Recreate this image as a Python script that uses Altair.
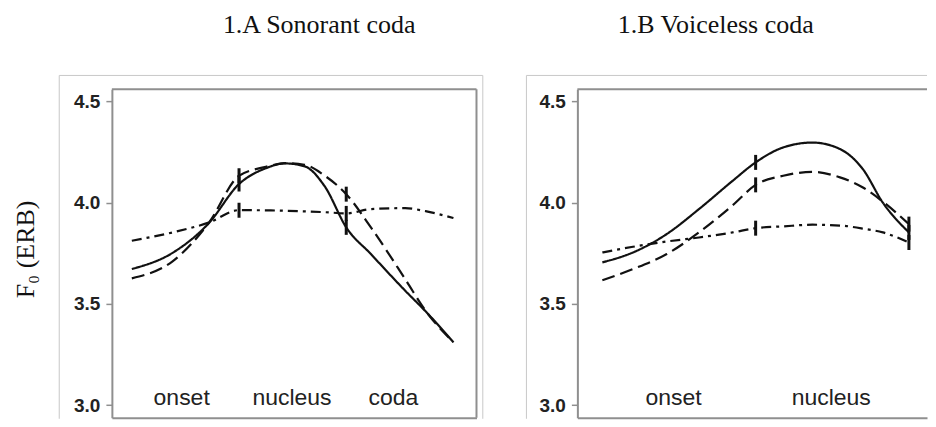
import altair as alt
import pandas as pd

# ---------------- data ----------------
series_names = ["solid", "dashed", "dashdot"]

left_x = [0.0, 0.38, 0.72, 1.0, 1.25, 1.43, 1.61, 1.8, 2.0, 2.23, 2.55, 2.74, 3.0]
left_solid = [3.672, 3.752, 3.900, 4.092, 4.170, 4.194, 4.180, 4.080, 3.878, 3.746, 3.565, 3.463, 3.310]
left_dashed = [3.626, 3.710, 3.902, 4.133, 4.177, 4.195, 4.187, 4.133, 4.042, 3.878, 3.622, 3.466, 3.310]
left_dashdot = [3.812, 3.853, 3.902, 3.963, 3.962, 3.960, 3.957, 3.953, 3.947, 3.968, 3.973, 3.958, 3.924]

right_x = [0.0, 0.2, 0.42, 0.63, 0.85, 1.0, 1.18, 1.37, 1.55, 1.7, 1.83, 2.0]
right_solid = [3.705, 3.754, 3.845, 3.968, 4.108, 4.199, 4.273, 4.297, 4.265, 4.165, 4.000, 3.853]
right_dashed = [3.617, 3.672, 3.746, 3.853, 3.987, 4.088, 4.133, 4.152, 4.125, 4.075, 4.005, 3.894]
right_dashdot = [3.754, 3.782, 3.808, 3.828, 3.853, 3.874, 3.883, 3.891, 3.887, 3.872, 3.853, 3.803]

boundaries = [1.0, 2.0]

left_labels = ["onset", "nucleus", "coda"]
left_label_x = [0.465, 1.494, 2.44]
right_labels = ["onset", "nucleus"]
right_label_x = [0.464, 1.493]
label_y = 3.0

y_ticks = [3.0, 3.5, 4.0, 4.5]
y_domain = [2.937, 4.561]

titles = ["1.A Sonorant coda", "1.B Voiceless coda"]
y_title = "F\u2080 (ERB)"

# ---------------- style ----------------
dash_styles = [[1, 0], [13, 6], [10, 5, 3, 5]]
FRAME = "#8f8f8f"
OUTER = "#c8c8c8"
H = 329


def long_df(xs, vals):
    rows = []
    for name, ys in zip(series_names, vals):
        for x, y in zip(xs, ys):
            rows.append({"x": x, "y": y, "series": name})
    return pd.DataFrame(rows)


def panel(xs, vals, labels, label_x, title, title_dx, W, xdom, with_y_title, right_border,
          outer_left, outer_right):
    df = long_df(xs, vals)
    xs_scale = alt.Scale(domain=xdom, nice=False, zero=False)
    ys_scale = alt.Scale(domain=y_domain, nice=False, zero=False)

    y_axis_kw = dict(
        values=y_ticks, format=".1f", grid=False,
        labelFont="Liberation Sans", labelFontSize=19, labelFontWeight="bold",
        labelColor="#222", labelPadding=6,
        tickColor=FRAME, tickSize=6, tickWidth=1.5,
        domainColor=FRAME, domainWidth=2,
    )
    if with_y_title:
        y_axis_kw.update(
            title=y_title, titleFont="Liberation Serif", titleFontSize=26,
            titleFontWeight="normal", titleColor="#111",
            titleX=-86, titleY=160, titleAlign="center", titleBaseline="middle",
            titleAngle=270,
        )
    else:
        y_axis_kw.update(title=None)

    x_enc = alt.X("x:Q", scale=xs_scale,
                  axis=alt.Axis(title=None, labels=False, ticks=False, grid=False,
                                domainColor=FRAME, domainWidth=2))
    y_enc = alt.Y("y:Q", scale=ys_scale, axis=alt.Axis(**y_axis_kw))

    base = alt.Chart(df)
    lines = base.mark_line(interpolate="monotone", color="#111", strokeWidth=2.2).encode(
        x=x_enc, y=y_enc,
        strokeDash=alt.StrokeDash("series:N",
                                  scale=alt.Scale(domain=series_names, range=dash_styles),
                                  legend=None),
        detail="series:N",
    )
    ticks = base.transform_filter(
        alt.FieldOneOfPredicate(field="x", oneOf=boundaries)
    ).mark_tick(orient="vertical", color="#111", thickness=3, size=15, opacity=1).encode(
        x="x:Q", y="y:Q"
    )

    lab_df = pd.DataFrame({"x": label_x, "y": [label_y] * len(label_x), "label": labels})
    text = alt.Chart(lab_df).mark_text(
        baseline="alphabetic", align="center", font="Liberation Sans", fontSize=23, color="#222"
    ).encode(x="x:Q", y="y:Q", text="label:N")

    one = alt.Data(values=[{"a": 1}])
    layers = []
    # outer (image) border, light grey
    layers.append(alt.Chart(one).mark_rule(color=OUTER, strokeWidth=1).encode(
        x=alt.value(outer_left), x2=alt.value(outer_right), y=alt.value(-13.7)))
    layers.append(alt.Chart(one).mark_rule(color=OUTER, strokeWidth=1).encode(
        x=alt.value(outer_left), y=alt.value(-13.7), y2=alt.value(H + 1)))
    if right_border:
        layers.append(alt.Chart(one).mark_rule(color=OUTER, strokeWidth=1).encode(
            x=alt.value(outer_right), y=alt.value(-13.7), y2=alt.value(H + 1)))
    # plot frame top / right
    layers.append(alt.Chart(one).mark_rule(color=FRAME, strokeWidth=2).encode(
        x=alt.value(0), x2=alt.value(W), y=alt.value(0)))
    if right_border:
        layers.append(alt.Chart(one).mark_rule(color=FRAME, strokeWidth=2).encode(
            x=alt.value(W), y=alt.value(0), y2=alt.value(H)))

    layered = alt.layer(lines, ticks, text, *layers).properties(
        width=W, height=H,
        title=alt.TitleParams(
            text=title, font="Liberation Serif", fontSize=26, fontWeight="normal",
            color="#111", anchor="middle", dx=title_dx, offset=16, frame="group",
            baseline="alphabetic",
        ),
    )
    return layered


left = panel(left_x, [left_solid, left_dashed, left_dashdot], left_labels, left_label_x,
             titles[0], 25, 365, [-0.186, 3.215], True, True, -52.7, 371.3)
right = panel(right_x, [right_solid, right_dashed, right_dashdot], right_labels, right_label_x,
              titles[1], -36.5, 350, [-0.163, 2.118], False, False, -51, 350)

chart = alt.hconcat(left, right, spacing=101, bounds="flush").properties(
    padding={"left": 5, "top": 3, "right": 0, "bottom": 0}
).configure_view(stroke=None)

chart.save("out.html", embed_options={"renderer": "svg", "actions": False})
